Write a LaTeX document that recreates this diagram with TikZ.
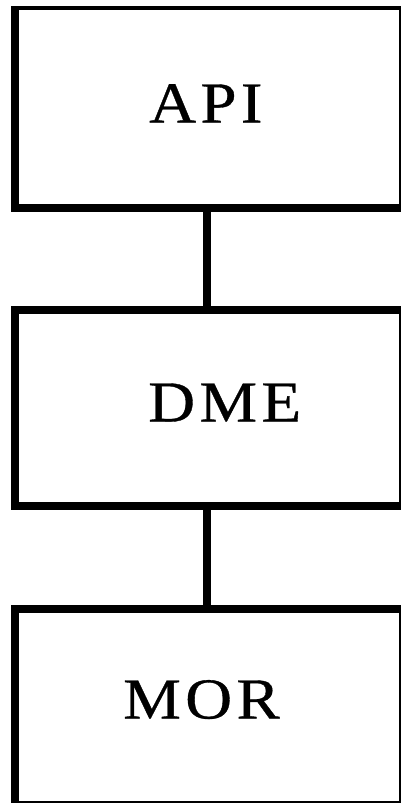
\documentclass[tikz,border=0pt]{standalone}
\usepackage{fontspec}
\setmainfont{Liberation Serif}
\usetikzlibrary{positioning}

\tikzset{
  boxface/.style={fill=white,inner sep=0pt,minimum width=380.3pt},
  boxlabel/.style={anchor=base west,inner sep=0pt,
    font=\fontsize{58}{58}\selectfont\addfontfeature{FakeStretch=1.12,FakeBold=0.6,LetterSpace=7.5}},
  link/.style={line width=8pt}
}

\begin{document}
\begin{tikzpicture}[x=1pt,y=-1pt]
\useasboundingbox (0,0) rectangle (401,803);
% frames: heavy left and bottom edge, hairline on the right
\fill (11,6) rectangle (400.7,212);
\fill (11,306) rectangle (400.7,510);
\fill (11,605) rectangle (400.7,802.7);
\node[boxface,minimum height=194pt] (apibox) at (209.15,107) {};
\node[boxface,minimum height=188pt] (dmebox) at (209.15,408) {};
\node[boxface,minimum height=188pt] (morbox) at (209.15,707) {};
\node[boxlabel] (api) at (149,122.5) {API};
\node[boxlabel] (dme) at (148,421.5) {DME};
\node[boxlabel] (mor) at (123,718.5) {MOR};
% links
\draw[link] ([xshift=-2.15pt]apibox.south) -- ([xshift=-2.15pt]dmebox.north);
\draw[link] ([xshift=-2.15pt]dmebox.south) -- ([xshift=-2.15pt]morbox.north);
\end{tikzpicture}
\end{document}
